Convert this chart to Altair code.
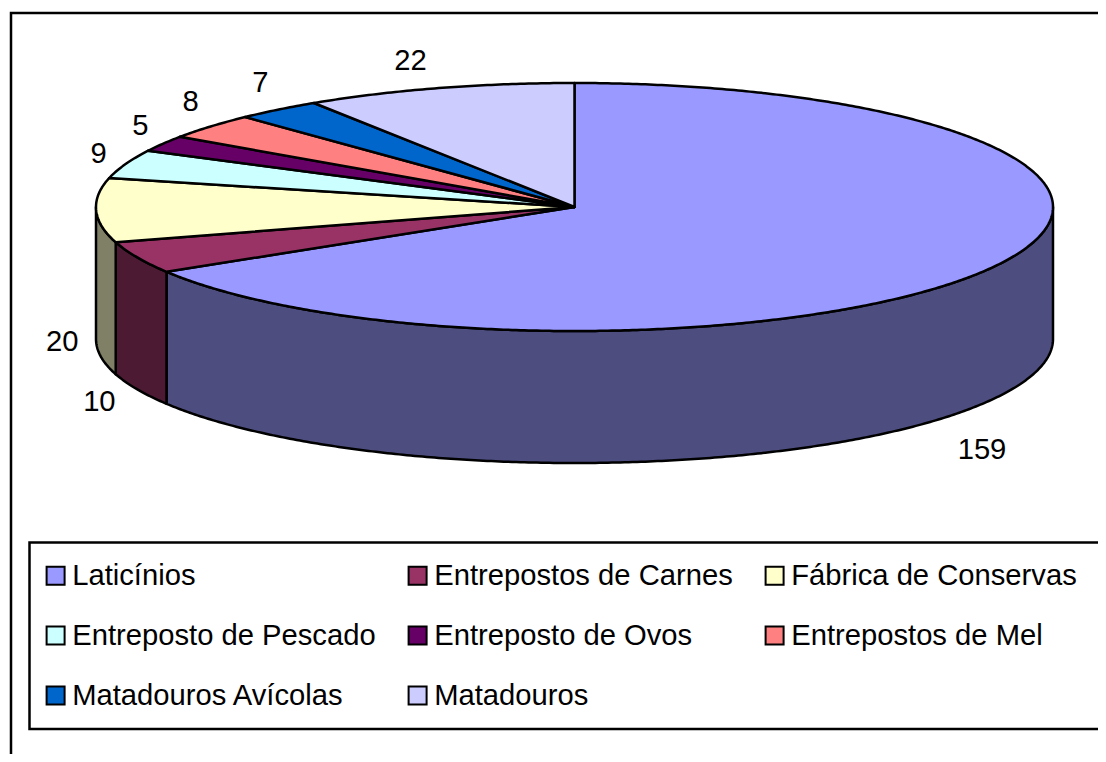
import math
import altair as alt

# ---- data ----
categories = ["Laticínios", "Entrepostos de Carnes", "Fábrica de Conservas", "Entreposto de Pescado",
              "Entreposto de Ovos", "Entrepostos de Mel", "Matadouros Avícolas", "Matadouros"]
values = [159, 10, 20, 9, 5, 8, 7, 22]
top_colors = ["#9999FF", "#993366", "#FFFFCC", "#CCFFFF", "#660066", "#FF8080", "#0066CC", "#CCCCFF"]
wall_colors = ["#4D4D80", "#4D1A33", "#808066", "#668080", "#330033", "#804040", "#003366", "#666680"]
# The legend fills column by column; this order reads row by row in the picture
legend_order = [0, 3, 6, 1, 4, 7, 2, 5]

# ---- layout (chart coordinates = page pixels minus the 8px page margin) ----
W, H = 1090, 746
M = 8
CX, CY, RX, RY, DEPTH = 574.5 - M, 207 - M, 478.5, 124, 132
LABEL_NUDGE = [(-10, 50), (-38, 13), (-34, 0), (-27, -10), (-23, -18), (-20, -24), (-18, -27), (-28, -27)]
FONT = "Liberation Sans"
FONT_SIZE = 29.2


def rim(deg, dy=0.0):
    a = math.radians(deg)
    return [CX + RX * math.sin(a), CY - RY * math.cos(a) + dy]


def arc(a0, a1, dy=0.0):
    n = max(2, int(abs(a1 - a0) * 2))
    return [rim(a0 + (a1 - a0) * i / n, dy) for i in range(n + 1)]


def feature(coords, kind, **props):
    return {"type": "Feature", "geometry": {"type": kind, "coordinates": coords},
            "properties": props}


total = sum(values)
top, walls, labels = [], [], []
acc = 0
for cat, v, wc, nudge in zip(categories, values, wall_colors, LABEL_NUDGE):
    a0, a1 = acc / total * 360, (acc + v) / total * 360
    acc += v
    top.append(feature([[[CX, CY]] + arc(a0, a1) + [[CX, CY]]], "Polygon", name=cat))
    lo, hi = max(a0, 90), min(a1, 270)
    if lo < hi:
        walls.append(feature([arc(lo, hi) + arc(hi, lo, DEPTH) + [rim(lo)]], "Polygon", wall=wc))
    mid = (a0 + a1) / 2
    x, y = rim(mid, DEPTH if 90 < mid < 270 else 0)
    labels.append({"lon": x + nudge[0], "lat": y + nudge[1], "label": str(v)})

frames = [
    feature([[W, 13 - M], [11 - M, 13 - M], [11 - M, H]], "LineString"),
    feature([[W, 542.5 - M], [29.5 - M, 542.5 - M], [29.5 - M, 729 - M], [W, 729 - M]], "LineString"),
]

# Fitting to the exact canvas rectangle makes the identity projection 1:1 with chart pixels
canvas = feature([[[0, 0], [W, 0], [W, H], [0, H], [0, 0]]], "Polygon")
proj = dict(type="identity", fit=canvas)

frame_layer = (
    alt.Chart(alt.Data(values=frames))
    .mark_geoshape(filled=False, stroke="black", strokeWidth=2.5)
    .project(**proj)
)
wall_layer = (
    alt.Chart(alt.Data(values=walls))
    .mark_geoshape(stroke="black", strokeWidth=2.5, strokeJoin="round")
    .encode(fill=alt.Fill("properties.wall:N", scale=None))
    .project(**proj)
)
top_layer = (
    alt.Chart(alt.Data(values=top))
    .mark_geoshape(stroke="black", strokeWidth=2.5, strokeJoin="round")
    .encode(
        color=alt.Color(
            "properties.name:N",
            scale=alt.Scale(
                domain=[categories[i] for i in legend_order],
                range=[top_colors[i] for i in legend_order],
            ),
            legend=alt.Legend(
                title=None, orient="none", legendX=41 - M, legendY=561 - M, columns=3,
                symbolType="square", symbolSize=324, symbolStrokeColor="black", symbolStrokeWidth=2,
                labelFont=FONT, labelFontSize=FONT_SIZE, labelColor="black", labelLimit=500,
                labelOffset=2, columnPadding=27, rowPadding=30, padding=0, gridAlign="each",
                symbolOpacity=1,
            ),
        )
    )
    .project(**proj)
)
text_layer = (
    alt.Chart(alt.Data(values=labels))
    .mark_text(font=FONT, fontSize=FONT_SIZE, color="black", align="center", baseline="middle")
    .encode(longitude="lon:Q", latitude="lat:Q", text="label:N")
    .project(**proj)
)

chart = (
    alt.layer(frame_layer, wall_layer, top_layer, text_layer)
    .properties(width=W, height=H, padding=0, autosize=alt.AutoSizeParams(type="none"), background="white")
    .configure_view(stroke=None)
)
chart.save("out.html", embed_options={"renderer": "svg", "actions": False})
